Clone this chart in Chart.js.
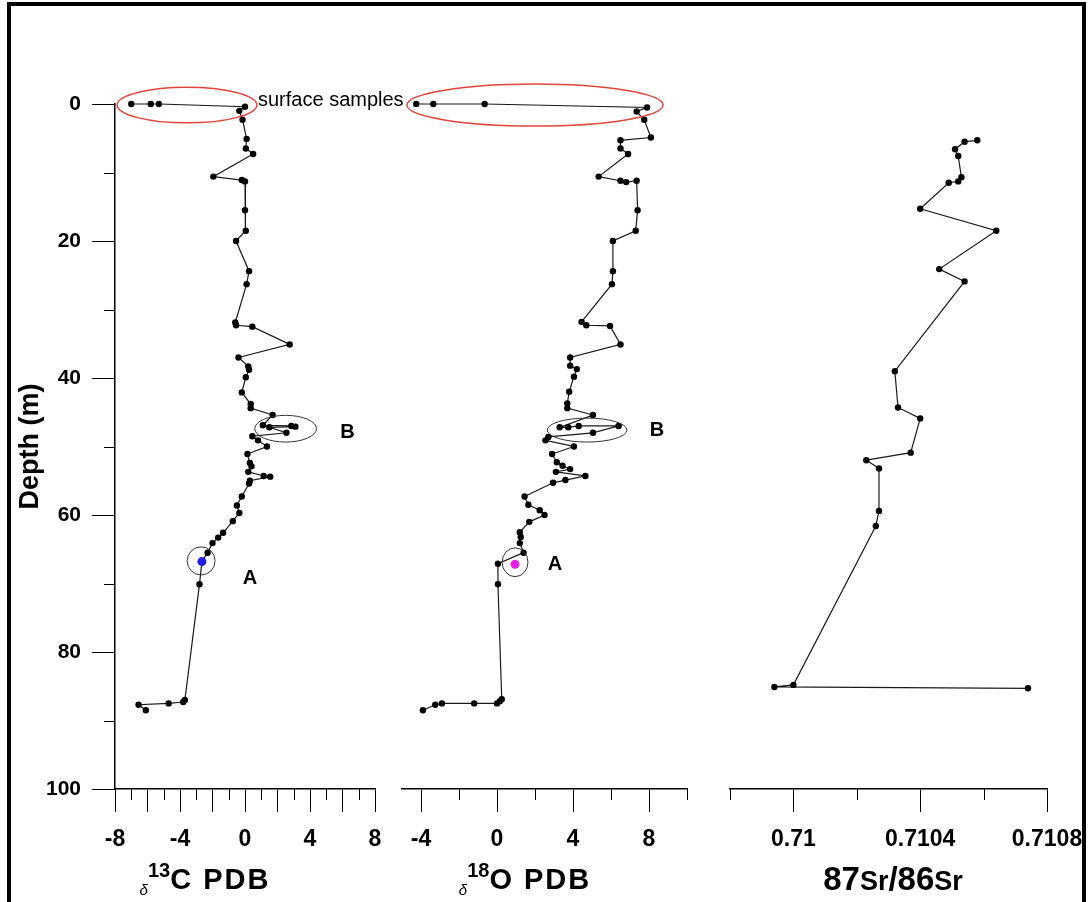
<!DOCTYPE html>
<html>
<head>
<meta charset="utf-8">
<script src="https://cdn.jsdelivr.net/npm/chart.js@4.4.1/dist/chart.umd.min.js"></script>
<style>
  html, body { margin: 0; padding: 0; background: #fff; width: 1088px; height: 902px; overflow: hidden; }
  #marco { position: absolute; left: 7px; top: 2px; width: 1071px; height: 1000px; border: 4px solid #000; }
  canvas.panel { position: absolute; left: 0; top: 0; }
  .titulo { position: absolute; width: 220px; text-align: center; white-space: nowrap; line-height: 1;
            font-family: Arial, "Liberation Sans", sans-serif; font-weight: bold; font-size: 29px; letter-spacing: 2px; color: #000; }
  .titulo .delta { font-size: 15px; font-weight: normal; font-style: italic; letter-spacing: 0; position: relative; top: 6px; }
  .titulo .sup { font-size: 20px; letter-spacing: 0; position: relative; top: -12px; }
  .titulo.sr { font-family: "Liberation Sans Narrow", "Arial Narrow", Arial, sans-serif; font-size: 33px; letter-spacing: 0; }
  .titulo.sr .chico { font-size: 27px; }
</style>
</head>
<body>
<div id="marco"></div>
<canvas id="panelC" class="panel" width="1088" height="902"></canvas>
<canvas id="panelO" class="panel" width="1088" height="902"></canvas>
<canvas id="panelSr" class="panel" width="1088" height="902"></canvas>
<div class="titulo" style="left:95px; top:865px;"><span class="delta">δ</span><span class="sup">13</span>C PDB</div>
<div class="titulo" style="left:415px; top:865px;"><span class="delta">δ</span><span class="sup">18</span>O PDB</div>
<div class="titulo sr" style="left:783px; top:862px;">87<span class="chico">Sr</span>/86<span class="chico">Sr</span></div>

<script>
// Profundidad (m) y d13C
const profC = [0, 0, 0, 0.4, 1.0, 2.3, 5.1, 6.5, 7.3, 10.6, 11.1, 11.3, 15.5, 18.5, 20.0, 24.4, 26.3,
  31.9, 32.3, 32.5, 35.1, 37.0, 38.3, 38.8, 39.9, 42.1, 43.8, 44.4, 45.4, 46.9, 47.0, 47.1, 47.2, 48.0,
  48.5, 49.1, 50.0, 51.1, 52.4, 52.9, 53.7, 54.3, 54.4, 55.0, 55.4, 57.3, 58.6, 59.7, 60.9, 62.6, 63.3,
  64.1, 65.5, 66.8, 70.1, 87.0, 87.3, 87.5, 87.7, 88.5];
const d13C = [-7.0, -5.8, -5.3, 0.0, -0.35, -0.15, 0.1, 0.05, 0.5, -1.95, -0.2, 0.0, 0.0, 0.05, -0.55, 0.25, 0.1,
  -0.6, -0.55, 0.45, 2.75, -0.4, 0.2, 0.25, 0.05, -0.2, 0.35, 0.35, 1.7, 1.1, 2.85, 3.1, 1.5, 2.55,
  0.45, 0.8, 1.35, 0.15, 0.3, 0.4, 0.2, 1.15, 1.55, 0.3, 0.25, -0.2, -0.5, -0.35, -0.75, -1.35, -1.65,
  -2.0, -2.3, -2.65, -2.8, -3.7, -3.8, -4.7, -6.55, -6.1];
// muestra A (azul)
const profA_C = [66.8];
const d13C_A = [-2.65];

// Profundidad (m) y d18O
const profO = [0, 0, 0, 0.5, 1.1, 2.3, 4.9, 5.3, 6.5, 7.3, 10.6, 11.2, 11.4, 11.2, 15.5, 18.5, 20.0, 24.4, 26.3,
  31.8, 32.3, 32.4, 35.1, 37.0, 38.2, 38.7, 39.8, 42.0, 43.7, 44.4, 45.4, 47.2, 47.2, 47.0, 47.0, 48.0,
  48.6, 49.1, 50.0, 51.1, 52.3, 52.8, 53.3, 53.7, 54.3, 54.9, 55.3, 57.3, 58.5, 59.3, 60.0, 61.0, 62.5,
  63.2, 64.1, 65.5, 67.1, 70.1, 86.9, 87.2, 87.5, 87.5, 87.5, 87.7, 88.5];
const d18O = [-4.25, -3.35, -0.65, 7.9, 7.35, 7.75, 8.1, 6.5, 6.5, 6.9, 5.35, 6.5, 6.8, 7.35, 7.4, 7.3, 6.1, 6.1, 6.05,
  4.45, 4.7, 5.95, 6.5, 3.85, 3.85, 4.2, 4.05, 3.8, 3.7, 3.7, 5.05, 3.3, 3.75, 4.3, 6.4, 5.05,
  2.7, 2.55, 4.05, 2.9, 3.15, 3.45, 3.85, 3.1, 4.65, 3.6, 2.95, 1.45, 1.65, 2.25, 2.5, 1.7, 1.2,
  1.25, 1.2, 1.4, 0.05, 0.05, 0.25, 0.15, 0.0, -1.2, -2.9, -3.25, -3.9];
// muestra A (magenta)
const profA_O = [67.2];
const d18O_A = [0.95];

// Profundidad (m) y 87Sr/86Sr
const profSr = [5.3, 5.5, 6.6, 7.6, 10.7, 11.3, 11.5, 15.3, 18.5, 24.1, 25.9, 39.0, 44.3, 45.9, 50.9,
  52.0, 53.2, 59.4, 61.6, 84.8, 85.1, 85.3];
const srRatio = [0.71058, 0.71054, 0.71051, 0.71052, 0.71053, 0.71052, 0.71049, 0.7104, 0.71064, 0.71046,
  0.71054, 0.71032, 0.71033, 0.7104, 0.71037, 0.71023, 0.71027, 0.71027, 0.71026, 0.71, 0.70994, 0.71074];

// Marcas de los ejes
const ticksProf = [0, 20, 40, 60, 80, 100];
const ticksProfMenores = [10, 30, 50, 70, 90];
const ticksC = [-8, -6, -4, -2, 0, 2, 4, 6, 8];
const ticksCMenores = [-7, -5, -3, -1, 1, 3, 5, 7];
const etiquetasC = [-8, -4, 0, 4, 8];
const ticksO = [-4, 0, 4, 8];
const ticksOMenores = [-2, 2, 6, 10];
const etiquetasO = [-4, 0, 4, 8];
const ticksSr = [0.71, 0.7104, 0.7108];
const ticksSrMenores = [0.7098, 0.7102, 0.7106];
const etiquetasSr = [0.71, 0.7104, 0.7108];

const puntos = (xs, ys) => xs.map((v, i) => ({ x: v, y: ys[i] }));

const fuenteEjeX = { family: "'Liberation Sans Narrow', 'Arial Narrow', Arial, sans-serif", weight: 'bold', size: 23 };

// marcas cortas de los ejes
const marcasMenores = {
  id: 'marcasMenores',
  afterDraw(chart, args, opts) {
    const ctx = chart.ctx;
    const x = chart.scales.x, y = chart.scales.y;
    ctx.save();
    ctx.strokeStyle = '#000';
    ctx.lineWidth = 1;
    (opts.x || []).forEach((v) => {
      const px = Math.round(x.getPixelForValue(v)) + 0.5;
      ctx.beginPath();
      ctx.moveTo(px, x.top);
      ctx.lineTo(px, x.top + opts.largo);
      ctx.stroke();
    });
    if (y.options.display) {
      (opts.y || []).forEach((v) => {
        const py = Math.round(y.getPixelForValue(v)) + 0.5;
        ctx.beginPath();
        ctx.moveTo(y.right, py);
        ctx.lineTo(y.right - opts.largo, py);
        ctx.stroke();
      });
    }
    ctx.restore();
  }
};

// elipses y rotulos
const anotaciones = {
  id: 'anotaciones',
  afterDatasetsDraw(chart, args, opts) {
    const ctx = chart.ctx;
    const x = chart.scales.x, y = chart.scales.y;
    ctx.save();
    (opts.elipses || []).forEach((e) => {
      const cx = x.getPixelForValue(e.x), cy = y.getPixelForValue(e.y);
      const rx = Math.abs(x.getPixelForValue(e.x + e.rx) - cx);
      const ry = Math.abs(y.getPixelForValue(e.y + e.ry) - cy);
      ctx.beginPath();
      ctx.ellipse(cx, cy, rx, ry, 0, 0, Math.PI * 2);
      ctx.strokeStyle = e.color;
      ctx.lineWidth = e.ancho;
      ctx.stroke();
    });
    (opts.textos || []).forEach((t) => {
      ctx.font = t.font;
      ctx.fillStyle = '#000';
      ctx.textAlign = t.align;
      ctx.textBaseline = 'middle';
      ctx.fillText(t.texto, x.getPixelForValue(t.x), y.getPixelForValue(t.y));
    });
    ctx.restore();
  }
};

function crearPanel(id, cfg) {
  const conEjeY = cfg.ejeY;
  return new Chart(document.getElementById(id), {
    type: 'scatter',
    data: { datasets: cfg.datasets },
    options: {
      responsive: false,
      animation: false,
      events: [],
      layout: { padding: cfg.padding },
      plugins: {
        legend: { display: false },
        tooltip: { enabled: false },
        marcasMenores: { x: cfg.xMenores, y: ticksProfMenores, largo: 11 },
        anotaciones: cfg.anotaciones
      },
      scales: {
        x: {
          type: 'linear',
          position: 'bottom',
          min: cfg.xMin,
          max: cfg.xMax,
          afterBuildTicks: (s) => { s.ticks = cfg.xMayores.map((v) => ({ value: v })); },
          afterFit: (s) => { s.height = 113; s.paddingLeft = 0; s.paddingRight = 0; },
          border: { display: true, color: '#000', width: 1.5 },
          grid: { display: true, drawOnChartArea: false, drawTicks: true, tickLength: 23, tickColor: '#000', tickWidth: 1 },
          ticks: {
            autoSkip: false,
            maxRotation: 0,
            padding: 14,
            color: '#000',
            font: fuenteEjeX,
            callback: (v) => (cfg.xEtiquetas.includes(v) ? String(v) : '')
          }
        },
        y: {
          type: 'linear',
          display: conEjeY,
          reverse: true,
          min: 0,
          max: 100,
          afterBuildTicks: (s) => { s.ticks = ticksProf.map((v) => ({ value: v })); },
          afterFit: (s) => { if (conEjeY) s.width = 115; },
          border: { display: true, color: '#000', width: 1.5 },
          grid: { display: true, drawOnChartArea: false, drawTicks: true, tickLength: 23, tickColor: '#000', tickWidth: 1 },
          ticks: { padding: 11, color: '#000', font: { family: 'Arial, "Liberation Sans", sans-serif', weight: 'bold', size: 21 } },
          title: {
            display: true,
            text: 'Depth (m)',
            color: '#000',
            font: { family: 'Arial, "Liberation Sans", sans-serif', weight: 'bold', size: 27 },
            padding: { top: 14, bottom: 0 }
          }
        }
      }
    },
    plugins: [marcasMenores, anotaciones]
  });
}

const estiloLinea = {
  showLine: true,
  borderColor: '#1a1a1a',
  borderWidth: 1.2,
  pointRadius: 3.2,
  pointBackgroundColor: '#000',
  pointBorderWidth: 0,
  clip: false,
  order: 1
};

crearPanel('panelC', {
  ejeY: true,
  padding: { left: 0, right: 713, top: 104, bottom: 0 },
  xMin: -8, xMax: 8,
  xMayores: ticksC, xMenores: ticksCMenores, xEtiquetas: etiquetasC,
  datasets: [
    { ...estiloLinea, data: puntos(d13C, profC) },
    { data: puntos(d13C_A, profA_C), showLine: false, pointRadius: 4.5, pointBackgroundColor: '#1e1ee6', pointBorderWidth: 0, clip: false, order: 0 }
  ],
  anotaciones: {
    elipses: [
      { x: -3.57, y: 0.15, rx: 4.3, ry: 2.6, color: '#e0463c', ancho: 1.5 },
      { x: 2.5, y: 47.4, rx: 1.9, ry: 1.95, color: '#333', ancho: 1 },
      { x: -2.7, y: 66.7, rx: 0.86, ry: 2.05, color: '#333', ancho: 1 }
    ],
    textos: [
      { x: 0.8, y: -0.45, texto: 'surface samples', font: '20px Arial, "Liberation Sans", sans-serif', align: 'left' },
      { x: 6.3, y: 48.0, texto: 'B', font: 'bold 20px Arial, "Liberation Sans", sans-serif', align: 'center' },
      { x: 0.3, y: 69.3, texto: 'A', font: 'bold 20px Arial, "Liberation Sans", sans-serif', align: 'center' }
    ]
  }
});

crearPanel('panelO', {
  ejeY: false,
  padding: { left: 402, right: 401, top: 104, bottom: 0 },
  xMin: -5, xMax: 10,
  xMayores: ticksO, xMenores: ticksOMenores, xEtiquetas: etiquetasO,
  datasets: [
    { ...estiloLinea, data: puntos(d18O, profO) },
    { data: puntos(d18O_A, profA_O), showLine: false, pointRadius: 4.5, pointBackgroundColor: '#e61ee6', pointBorderWidth: 0, clip: false, order: 0 }
  ],
  anotaciones: {
    elipses: [
      { x: 2.0, y: 0.15, rx: 6.74, ry: 3.07, color: '#e0463c', ancho: 1.5 },
      { x: 4.74, y: 47.6, rx: 2.1, ry: 1.75, color: '#333', ancho: 1 },
      { x: 0.95, y: 66.9, rx: 0.68, ry: 2.1, color: '#333', ancho: 1 }
    ],
    textos: [
      { x: 8.42, y: 47.7, texto: 'B', font: 'bold 20px Arial, "Liberation Sans", sans-serif', align: 'center' },
      { x: 3.05, y: 67.2, texto: 'A', font: 'bold 20px Arial, "Liberation Sans", sans-serif', align: 'center' }
    ]
  }
});

crearPanel('panelSr', {
  ejeY: false,
  padding: { left: 730, right: 41, top: 104, bottom: 0 },
  xMin: 0.7098, xMax: 0.7108,
  xMayores: ticksSr, xMenores: ticksSrMenores, xEtiquetas: etiquetasSr,
  datasets: [
    { ...estiloLinea, data: puntos(srRatio, profSr) }
  ],
  anotaciones: {}
});
</script>
</body>
</html>
